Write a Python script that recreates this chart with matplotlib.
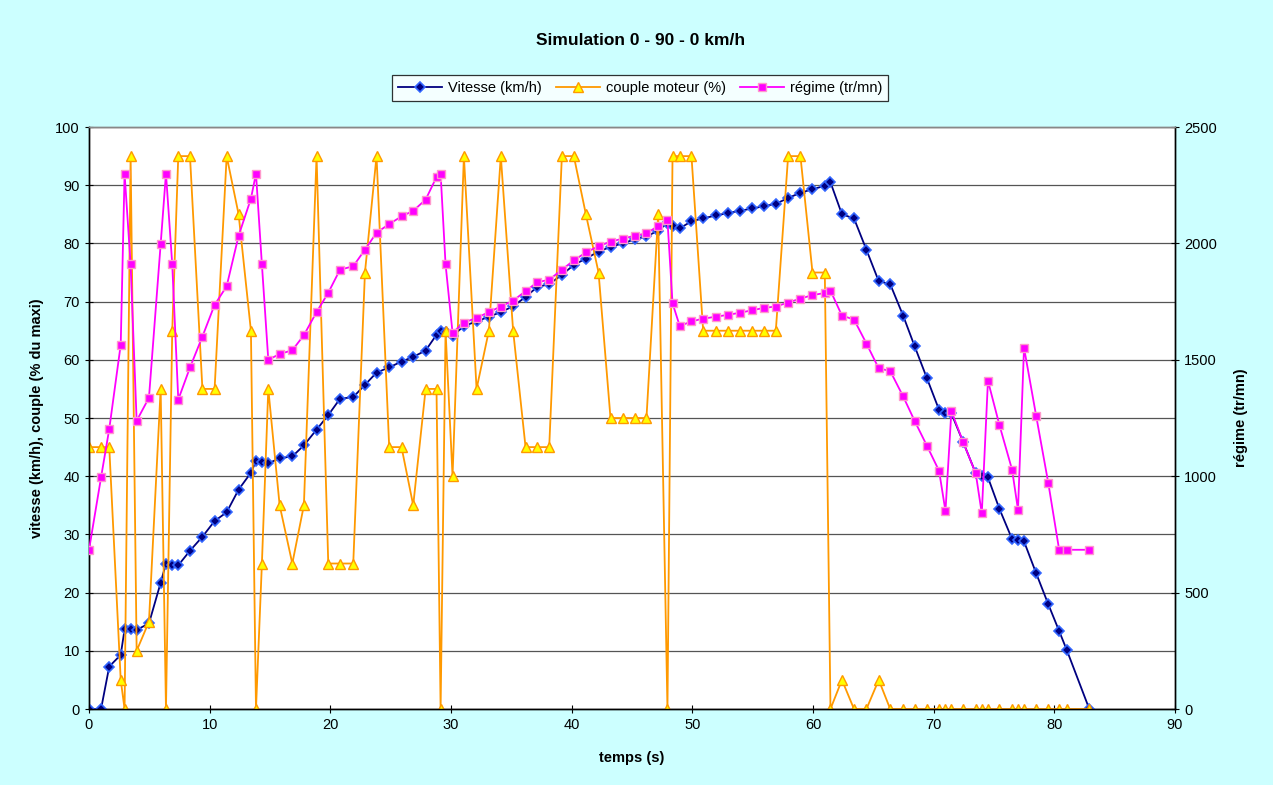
import matplotlib.pyplot as plt

# temps (s) commun aux trois séries
temps = [0, 1.0, 1.68, 2.63, 2.95, 3.45, 3.95, 4.97, 5.94, 6.38,
         6.9, 7.4, 8.37, 9.4, 10.41, 11.41, 12.4, 13.42, 13.84, 14.33,
         14.86, 15.8, 16.85, 17.81, 18.86, 19.83, 20.8, 21.9, 22.87, 23.83,
         24.88, 25.9, 26.87, 27.9, 28.8, 29.14, 29.55, 30.13, 31.07, 32.12,
         33.14, 34.13, 35.15, 36.18, 37.14, 38.14, 39.19, 40.18, 41.18, 42.23,
         43.22, 44.22, 45.22, 46.2, 47.17, 47.94, 48.36, 48.96, 49.93, 50.9,
         51.95, 52.92, 53.94, 54.96, 55.95, 56.92, 57.94, 58.96, 59.96, 60.98,
         61.45, 62.4, 63.4, 64.43, 65.45, 66.4, 67.47, 68.43, 69.45, 70.45,
         70.98, 71.47, 72.44, 73.49, 73.99, 74.5, 75.45, 76.5, 76.99, 77.49,
         78.5, 79.5, 80.4, 81.04, 82.9]

vitesse = [0, 0, 7.3, 9.3, 13.7, 13.7, 13.6, 14.7, 21.7, 25.0,
           24.8, 24.7, 27.2, 29.6, 32.3, 33.8, 37.7, 40.6, 42.6, 42.5,
           42.2, 43.1, 43.4, 45.3, 48.0, 50.5, 53.3, 53.6, 55.7, 57.8,
           58.7, 59.7, 60.5, 61.6, 64.3, 65.0, 64.8, 64.1, 65.8, 66.6,
           67.4, 68.2, 69.2, 70.8, 72.5, 73.0, 74.6, 76.3, 77.4, 78.6,
           79.4, 80.0, 80.7, 81.2, 82.2, 83.5, 83.0, 82.6, 83.8, 84.3,
           84.8, 85.2, 85.6, 86.0, 86.4, 86.8, 87.8, 88.7, 89.3, 89.9,
           90.5, 85.0, 84.3, 78.9, 73.5, 73.0, 67.6, 62.3, 56.8, 51.4,
           50.9, 50.8, 45.9, 40.5, 40.0, 39.8, 34.4, 29.2, 29.0, 28.8,
           23.3, 18.0, 13.4, 10.1, 0]

couple = [45, 45, 45, 5, 0, 95, 10, 15, 55, 0,
          65, 95, 95, 55, 55, 95, 85, 65, 0, 25,
          55, 35, 25, 35, 95, 25, 25, 25, 75, 95,
          45, 45, 35, 55, 55, 0, 65, 40, 95, 55,
          65, 95, 65, 45, 45, 45, 95, 95, 85, 75,
          50, 50, 50, 50, 85, 0, 95, 95, 95, 65,
          65, 65, 65, 65, 65, 65, 95, 95, 75, 75,
          0, 5, 0, 0, 5, 0, 0, 0, 0, 0,
          0, 0, 0, 0, 0, 0, 0, 0, 0, 0,
          0, 0, 0, 0, 0]

regime = [683, 995, 1203, 1565, 2300, 1910, 1238, 1337, 1997, 2300,
          1910, 1329, 1467, 1600, 1736, 1816, 2033, 2192, 2300, 1910,
          1500, 1525, 1541, 1606, 1705, 1788, 1887, 1902, 1973, 2046,
          2083, 2116, 2140, 2188, 2285, 2300, 1910, 1616, 1660, 1680,
          1705, 1729, 1754, 1795, 1833, 1844, 1887, 1927, 1961, 1988,
          2008, 2020, 2033, 2043, 2075, 2100, 1743, 1645, 1665, 1677,
          1685, 1693, 1702, 1713, 1723, 1729, 1746, 1763, 1778, 1787,
          1797, 1690, 1673, 1570, 1463, 1452, 1343, 1237, 1130, 1023,
          850, 1280, 1147, 1012, 840, 1410, 1220, 1028, 856, 1552,
          1258, 971, 684, 684, 684]

bg = '#ccffff'
plt.rcParams['font.family'] = ['Liberation Sans', 'DejaVu Sans']

fig = plt.figure(figsize=(12.73, 7.85), dpi=100, facecolor=bg)
ax = fig.add_axes([0.0699, 0.0968, 0.8531, 0.7414])
ax.set_facecolor('white')
ax2 = ax.twinx()

l1, = ax.plot(temps, vitesse, color='#000080', lw=1.3, marker='D', ms=5.2,
              mfc='#000080', mec='#3366ff', mew=1.2, zorder=3)
l2, = ax.plot(temps, couple, color='#ff9900', lw=1.3, marker='^', ms=7,
              mfc='#ffff00', mec='#ff9900', mew=1.0, zorder=4)
l3, = ax2.plot(temps, regime, color='#ff00ff', lw=1.3, marker='s', ms=6,
               mfc='#ff00ff', mec='#ff99cc', mew=1.0, zorder=5)

ax.set_xlim(0, 90)
ax.set_ylim(0, 100)
ax2.set_ylim(0, 2500)
ax.set_xticks(range(0, 91, 10))
ax.set_yticks(range(0, 101, 10))
ax2.set_yticks(range(0, 2501, 500))
ax.yaxis.grid(True, color='#555555', lw=0.9)
ax.set_axisbelow(True)

for a in (ax, ax2):
    a.tick_params(direction='inout', length=6, labelsize=10.5, width=0.8)
    for s in a.spines.values():
        s.set_color('black')
        s.set_linewidth(1.0)
ax.spines['top'].set_color('#888888')
ax2.spines['top'].set_color('#888888')

ax.set_xlabel('temps (s)', fontsize=10.5, fontweight='bold', labelpad=14)
ax.set_ylabel('vitesse (km/h), couple (% du maxi)', fontsize=10.5, fontweight='bold', labelpad=8)
ax2.set_ylabel('régime (tr/mn)', fontsize=10.5, fontweight='bold', labelpad=12)

fig.text(0.503, 0.949, 'Simulation 0 - 90 - 0 km/h', ha='center', va='center',
         fontsize=12.5, fontweight='bold')

leg = fig.legend([l1, l2, l3], ['Vitesse (km/h)', 'couple moteur (%)', 'régime (tr/mn)'],
                 loc='center', bbox_to_anchor=(0.503, 0.888), ncol=3, fontsize=10.5,
                 frameon=True, fancybox=False, edgecolor='black', facecolor='white',
                 handlelength=3.0, columnspacing=1.0, handletextpad=0.4,
                 borderpad=0.4)
leg.get_frame().set_linewidth(0.9)

fig.savefig('out.png', dpi=100, facecolor=bg)
